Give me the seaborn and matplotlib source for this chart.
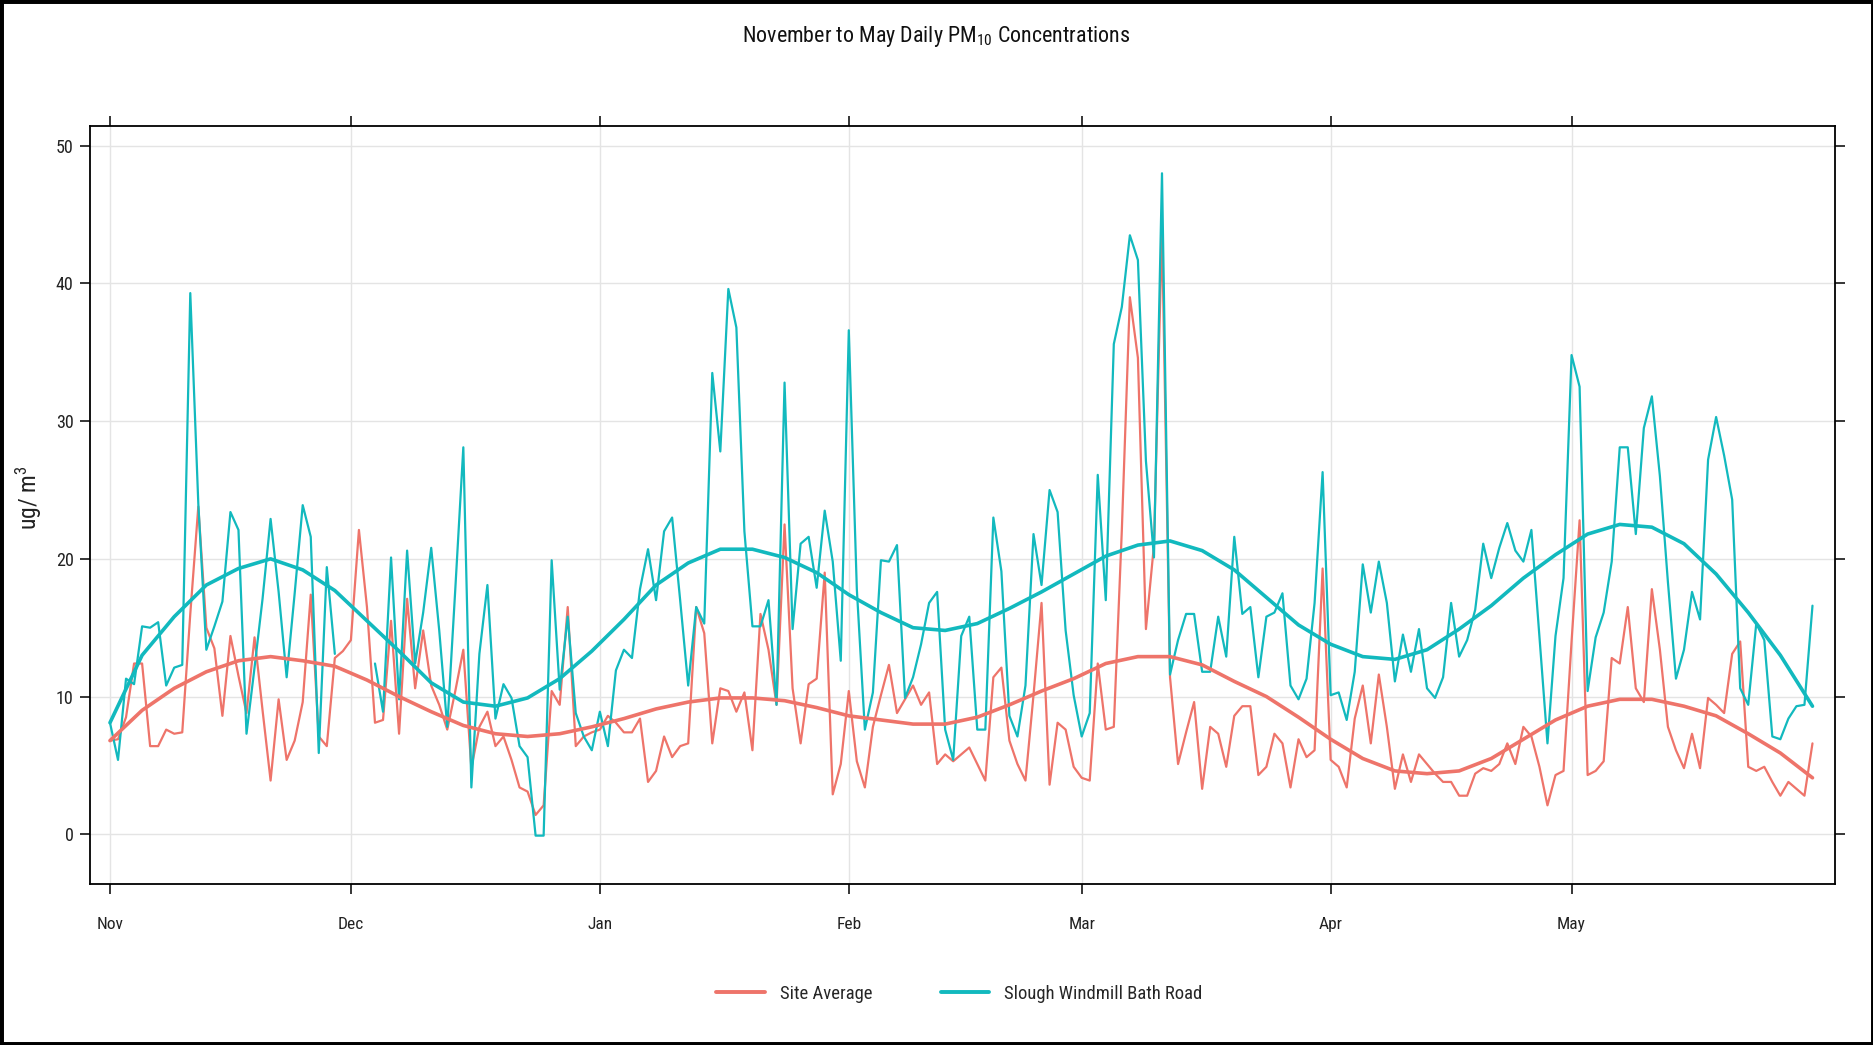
import numpy as np
import pandas as pd
import matplotlib
matplotlib.use("Agg")
import matplotlib.pyplot as plt
from matplotlib import font_manager
from matplotlib.lines import Line2D
from matplotlib.patches import Rectangle
import seaborn as sns

# ---------------------------------------------------------------- data
start_date = "2019-11-01"
end_date = "2020-05-31"

site_names = ["Site Average", "Slough Windmill Bath Road"]

# daily mean PM10 (ug/m3), averaged over all sites
site_average = [
    6.8, 6.9, 8.5, 12.4, 12.4, 6.4, 6.4, 7.6, 7.3, 7.4,
    16.0, 23.8, 15.0, 13.5, 8.6, 14.4, 11.5, 8.8, 14.3, 9.0,
    3.9, 9.8, 5.4, 6.8, 9.6, 17.4, 7.1, 6.4, 12.8, 13.3,
    14.1, 22.1, 16.5, 8.1, 8.3, 15.5, 7.3, 17.1, 10.6, 14.8,
    10.8, 9.4, 7.6, 10.4, 13.4, 4.8, 7.8, 8.9, 6.4, 7.1,
    5.4, 3.4, 3.1, 1.4, 2.1, 10.4, 9.4, 16.5, 6.4, 7.1,
    7.4, 7.6, 8.6, 8.1, 7.4, 7.4, 8.4, 3.8, 4.6, 7.1,
    5.6, 6.4, 6.6, 16.5, 14.6, 6.6, 10.6, 10.4, 8.9, 10.3,
    6.1, 16.0, 13.4, 9.4, 22.5, 10.6, 6.6, 10.9, 11.3, 19.0,
    2.9, 5.1, 10.4, 5.3, 3.4, 7.8, 10.1, 12.3, 8.8, 9.8,
    10.8, 9.4, 10.3, 5.1, 5.8, 5.3, 5.8, 6.3, 5.1, 3.9,
    11.4, 12.1, 6.8, 5.1, 3.9, 10.1, 16.8, 3.6, 8.1, 7.6,
    4.9, 4.1, 3.9, 12.4, 7.6, 7.8, 22.1, 39.0, 34.6, 14.9,
    21.0, 44.0, 11.4, 5.1, 7.4, 9.6, 3.3, 7.8, 7.3, 4.9,
    8.6, 9.3, 9.3, 4.3, 4.9, 7.3, 6.6, 3.4, 6.9, 5.6,
    6.1, 19.3, 5.4, 4.9, 3.4, 8.4, 10.8, 6.6, 11.6, 7.8,
    3.3, 5.8, 3.8, 5.8, 5.1, 4.4, 3.8, 3.8, 2.8, 2.8,
    4.4, 4.8, 4.6, 5.1, 6.6, 5.1, 7.8, 7.1, 4.9, 2.1,
    4.3, 4.6, 14.0, 22.8, 4.3, 4.6, 5.3, 12.8, 12.4, 16.5,
    10.6, 9.6, 17.8, 13.4, 7.8, 6.1, 4.8, 7.3, 4.8, 9.9,
    9.4, 8.8, 13.1, 14.0, 4.9, 4.6, 4.9, 3.8, 2.8, 3.8,
    3.3, 2.8, 6.6,
]

# daily mean PM10 (ug/m3) at Slough Windmill Bath Road; NaN = no data
nan = np.nan
slough_bath_road = [
    8.1, 5.4, 11.3, 10.9, 15.1, 15.0, 15.4, 10.8, 12.1, 12.3,
    39.3, 24.0, 13.4, 15.1, 16.9, 23.4, 22.1, 7.3, 12.1, 17.1,
    22.9, 17.6, 11.4, 17.5, 23.9, 21.6, 5.9, 19.4, 13.1, nan,
    nan, nan, nan, 12.4, 8.9, 20.1, 9.8, 20.6, 12.4, 16.1,
    20.8, 14.8, 7.8, 17.8, 28.1, 3.4, 13.1, 18.1, 8.4, 10.9,
    9.9, 6.4, 5.6, -0.1, -0.1, 19.9, 10.5, 15.8, 8.8, 7.1,
    6.1, 8.9, 6.4, 11.9, 13.4, 12.8, 17.8, 20.7, 17.0, 22.0,
    23.0, 17.0, 10.8, 16.5, 15.3, 33.5, 27.8, 39.6, 36.8, 22.0,
    15.1, 15.1, 17.0, 9.4, 32.8, 14.9, 21.1, 21.6, 17.9, 23.5,
    19.8, 12.6, 36.6, 17.8, 7.6, 10.3, 19.9, 19.8, 21.0, 9.9,
    11.4, 13.8, 16.8, 17.6, 7.6, 5.4, 14.4, 15.8, 7.6, 7.6,
    23.0, 19.1, 8.6, 7.1, 10.8, 21.8, 18.1, 25.0, 23.4, 14.8,
    10.1, 7.1, 8.8, 26.1, 17.0, 35.6, 38.3, 43.5, 41.7, 27.1,
    20.1, 48.0, 11.6, 14.1, 16.0, 16.0, 11.8, 11.8, 15.8, 12.9,
    21.6, 16.0, 16.5, 11.4, 15.8, 16.1, 17.5, 10.8, 9.8, 11.3,
    16.8, 26.3, 10.1, 10.3, 8.3, 11.8, 19.6, 16.1, 19.8, 16.8,
    11.1, 14.5, 11.8, 14.9, 10.6, 9.9, 11.4, 16.8, 12.9, 14.1,
    16.3, 21.1, 18.6, 20.8, 22.6, 20.6, 19.8, 22.1, 14.4, 6.6,
    14.4, 18.6, 34.8, 32.5, 10.4, 14.3, 16.1, 19.8, 28.1, 28.1,
    21.8, 29.5, 31.8, 26.0, 18.3, 11.3, 13.4, 17.6, 15.6, 27.2,
    30.3, 27.5, 24.3, 10.6, 9.4, 15.3, 14.1, 7.1, 6.9, 8.4,
    9.3, 9.4, 16.6,
]

# smooth trend of each series, every 4 days from 1 November
smooth_days = list(range(0, 213, 4))
site_average_smooth = [
    6.8, 9.0, 10.6, 11.8, 12.6, 12.9, 12.6, 12.2, 11.2, 10.0,
    8.9, 7.9, 7.3, 7.1, 7.3, 7.8, 8.4, 9.1, 9.6, 9.9,
    9.9, 9.7, 9.2, 8.6, 8.3, 8.0, 8.0, 8.5, 9.4, 10.4,
    11.3, 12.4, 12.9, 12.9, 12.3, 11.1, 10.0, 8.5, 6.9, 5.5,
    4.6, 4.4, 4.6, 5.5, 6.9, 8.3, 9.3, 9.8, 9.8, 9.3,
    8.6, 7.3, 5.9, 4.1,
]
slough_smooth = [
    8.1, 13.0, 15.8, 18.1, 19.3, 20.0, 19.2, 17.7, 15.5, 13.3,
    11.0, 9.6, 9.3, 9.9, 11.3, 13.3, 15.6, 18.1, 19.7, 20.7,
    20.7, 20.1, 19.0, 17.4, 16.1, 15.0, 14.8, 15.3, 16.4, 17.6,
    18.9, 20.2, 21.0, 21.3, 20.6, 19.2, 17.2, 15.2, 13.8, 12.9,
    12.7, 13.4, 14.9, 16.6, 18.6, 20.3, 21.8, 22.5, 22.3, 21.1,
    18.9, 16.1, 13.0, 9.3,
]

month_labels = ["Nov", "Dec", "Jan", "Feb", "Mar", "Apr", "May"]
y_ticks = [0, 10, 20, 30, 40, 50]

# ---------------------------------------------------------------- tables
dates = pd.date_range(start_date, end_date, freq="D")
daily = pd.DataFrame({"date": dates,
                      site_names[0]: site_average,
                      site_names[1]: slough_bath_road})
daily = daily.melt(id_vars="date", var_name="site", value_name="pm10")
# break a series into runs wherever data are missing so gaps stay open
daily["run"] = daily.groupby("site")["pm10"].transform(lambda s: s.isna().cumsum())
daily = daily.dropna(subset=["pm10"])

t0 = pd.Timestamp(start_date)
smooth_dates = t0 + pd.to_timedelta(smooth_days, unit="D")
trend = pd.DataFrame({"date": smooth_dates,
                      site_names[0]: site_average_smooth,
                      site_names[1]: slough_smooth})
trend = trend.melt(id_vars="date", var_name="site", value_name="pm10")

# ---------------------------------------------------------------- style
sns.set_theme(style="white")
available = {f.name for f in font_manager.fontManager.ttflist}
narrow = None
for cand in ["Liberation Sans Narrow", "Roboto Condensed", "Open Sans Condensed",
             "Arial Narrow", "Nimbus Sans Narrow"]:
    if cand in available:
        narrow = cand
        break
base_font = narrow if narrow else "Liberation Sans"
k = 1.0 if narrow else 0.84
plt.rcParams["font.family"] = [base_font, "DejaVu Sans"]
plt.rcParams["mathtext.default"] = "regular"

palette = {site_names[0]: "#EE746A", site_names[1]: "#12B9BE"}

fig = plt.figure(figsize=(18.74, 10.45), dpi=100)
ax = fig.add_axes([0.0478, 0.1537, 0.979 - 0.0478, 0.8799 - 0.1537])

sns.lineplot(data=daily, x="date", y="pm10", hue="site", hue_order=site_names,
             units="run", estimator=None, palette=palette, linewidth=1.6,
             legend=False, ax=ax)
sns.lineplot(data=trend, x="date", y="pm10", hue="site", hue_order=site_names,
             estimator=None, palette=palette, linewidth=2.6,
             legend=False, ax=ax)

ax.set_xlim(t0 - pd.Timedelta(days=2.54), t0 + pd.Timedelta(days=214.76))
ax.set_ylim(-3.64, 51.47)
month_starts = pd.date_range(start_date, periods=len(month_labels), freq="MS")
ax.set_xticks(month_starts)
ax.set_xticklabels(month_labels)
ax.set_yticks(y_ticks)
ax.set_yticklabels([str(v) for v in y_ticks])

ax.grid(True, color="#E4E4E4", linewidth=1.0)
ax.set_axisbelow(True)
for sp in ax.spines.values():
    sp.set_color("black")
    sp.set_linewidth(1.3)
ax.tick_params(axis="both", which="major", direction="out", length=7.5, width=1.1,
               color="black", top=True, right=True, bottom=True, left=True,
               labelcolor="#222222")
ax.tick_params(axis="y", labelsize=13 * k, pad=4)
ax.tick_params(axis="x", labelsize=12.5 * k, pad=16)

ax.set_xlabel("")
ax.set_ylabel("ug/ m$^3$", fontsize=17 * k, color="#222222")
ax.yaxis.set_label_coords(-0.026, 0.51)

fig.text(0.4995, 0.9646, "November to May Daily PM$_{10}$ Concentrations",
         ha="center", va="center", fontsize=15.8 * k, color="#111111")

handles = [Line2D([], [], color=palette[s], linewidth=2.8) for s in site_names]
fig.legend(handles, site_names, loc="center", bbox_to_anchor=(0.512, 0.0488),
           ncol=2, frameon=False, fontsize=13.4 * k, handlelength=2.6,
           handletextpad=0.8, columnspacing=3.7)

fig.add_artist(Rectangle((0, 0), 1, 1, transform=fig.transFigure, fill=False,
                         edgecolor="black", linewidth=5))

fig.savefig("out.png", dpi=100)
